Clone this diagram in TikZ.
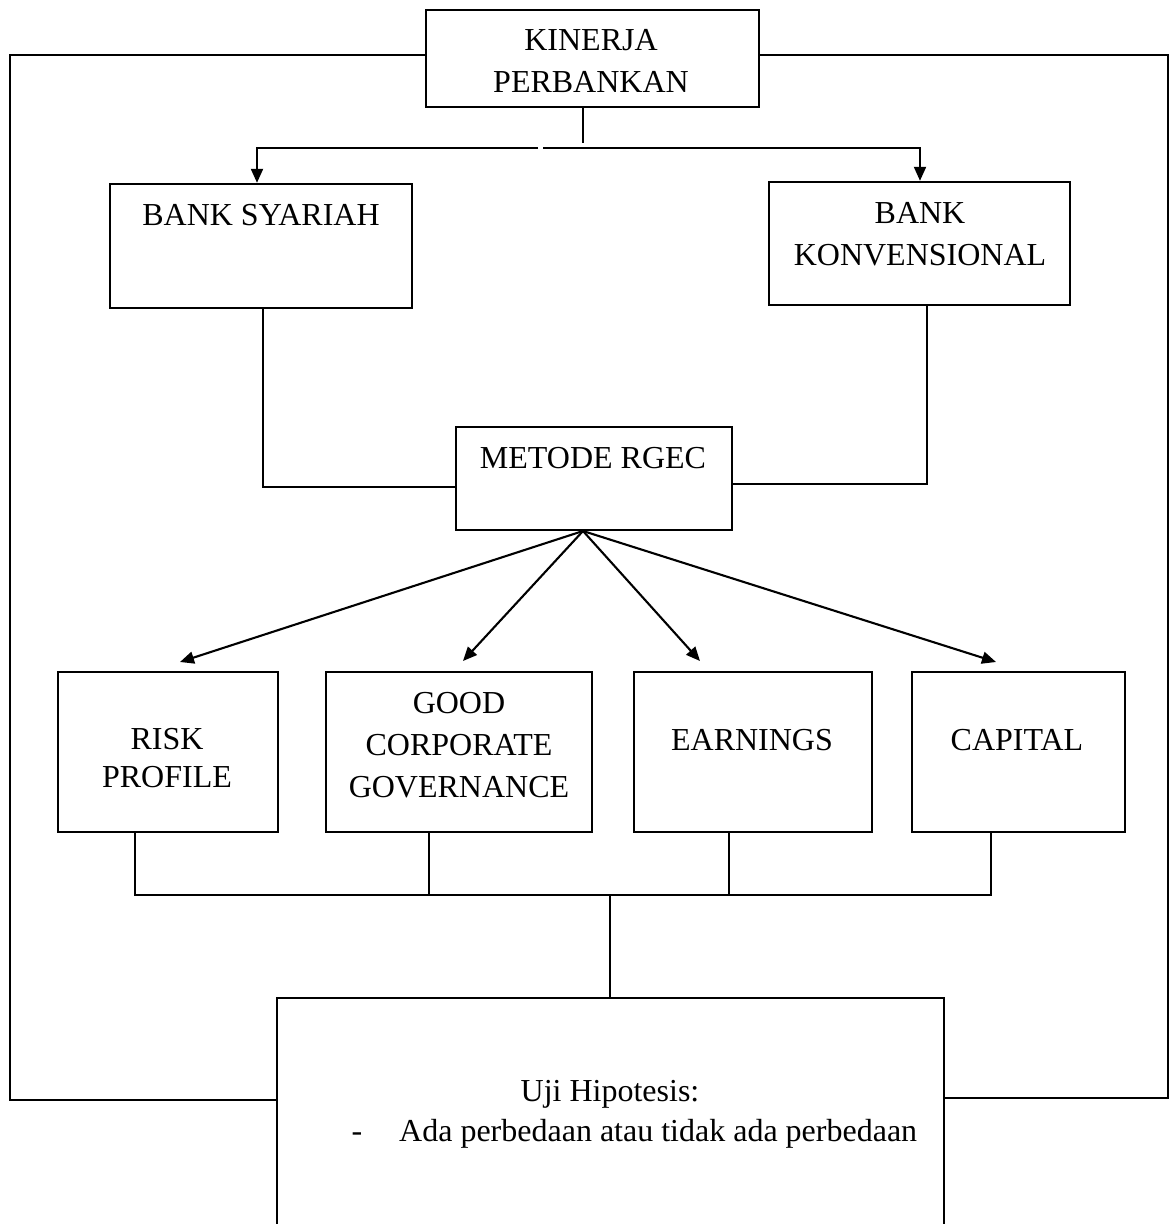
\documentclass[tikz,border=0pt]{standalone}
\usepackage{fontspec}
\setmainfont{Liberation Serif}
\usetikzlibrary{arrows.meta,calc}
\begin{document}
\begin{tikzpicture}[x=1pt,y=-1pt,
  box/.style={draw,line width=2.4pt,inner sep=0pt},
  conn/.style={line width=2pt},
  thin/.style={line width=1.6pt},
  arr/.style={line width=2.1pt,-{Triangle[length=14pt,width=12pt]}},
  lbl/.style={anchor=base,inner sep=0pt,font=\fontsize{32}{42}\selectfont}]
\clip (0,0) rectangle (1170,1224);
\fill[white] (0,0) rectangle (1170,1224);
% boxes
\node[box,minimum width=333pt,minimum height=97pt] (kin) at (592.5,58.5) {};
\node[box,minimum width=302pt,minimum height=124pt] (syariah) at (261,246) {};
\node[box,minimum width=301pt,minimum height=123pt] (konv) at (919.5,243.5) {};
\node[box,minimum width=276pt,minimum height=103pt] (metode) at (594,478.5) {};
\node[box,minimum width=220pt,minimum height=160pt] (risk) at (168,752) {};
\node[box,minimum width=266pt,minimum height=160pt] (gcg) at (459,752) {};
\node[box,minimum width=238pt,minimum height=160pt] (earn) at (753,752) {};
\node[box,minimum width=213pt,minimum height=160pt] (cap) at (1018.5,752) {};
\node[box,minimum width=667pt,minimum height=262pt] (uji) at (610.5,1129) {};
% texts
\node[lbl] (tk1) at (591,50) {KINERJA};
\node[lbl] (tk2) at (591,92) {PERBANKAN};
\node[lbl] (ts) at (261,225) {BANK SYARIAH};
\node[lbl] (tv1) at (920,223) {BANK};
\node[lbl] (tv2) at (920,265) {KONVENSIONAL};
\node[lbl] (tm) at (593,468) {METODE RGEC};
\node[lbl] (tr1) at (167,749) {RISK};
\node[lbl] (tr2) at (167,787) {PROFILE};
\node[lbl] (tg1) at (459,713) {GOOD};
\node[lbl] (tg2) at (459,755) {CORPORATE};
\node[lbl] (tg3) at (459,797) {GOVERNANCE};
\node[lbl] (te) at (752,750) {EARNINGS};
\node[lbl] (tc) at (1017,750) {CAPITAL};
\node[lbl] (tu1) at (610,1101) {Uji Hipotesis:};
\node[lbl] (tu2) at (357,1141) {-};
\node[lbl,anchor=base west] (tu3) at (399,1141) {Ada perbedaan atau tidak ada perbedaan};
% outer loop
\coordinate (ol1) at (10,54.5);
\coordinate (ol2) at (10,1100);
\coordinate (ol3) at (1168,54.5);
\coordinate (ol4) at (1168,1098);
\draw[conn] (kin.west |- ol1) -- (ol1) -- (ol2) -- (uji.west |- ol2);
\draw[conn] (kin.east |- ol3) -- (ol3) -- (ol4) -- (uji.east |- ol4);
% top split
\coordinate (ks) at (583,143);
\coordinate (hL) at (257,148);
\coordinate (hR) at (920,148);
\coordinate (g1) at (538,148);
\coordinate (g2) at (543,148);
\draw[thin] (kin.south -| ks) -- (ks);
\draw[arr] (g1) -| (syariah.north -| hL);
\draw[arr] (g2) -| (konv.north -| hR);
% to metode
\coordinate (sy) at (263,487);
\coordinate (kv) at (927,484);
\draw[conn] (syariah.south -| sy) -- (sy) -- (metode.west |- sy);
\draw[conn] (konv.south -| kv) -- (kv) -- (metode.east |- kv);
% RGEC arrows
\coordinate (rg) at (583,531);
\coordinate (t1) at (180,662);
\coordinate (t2) at (463,661);
\coordinate (t3) at (700,661);
\coordinate (t4) at (996,662);
\draw[arr] (rg) -- (t1);
\draw[arr] (rg) -- (t2);
\draw[arr] (rg) -- (t3);
\draw[arr] (rg) -- (t4);
% bottom join
\coordinate (b1) at (135,895);
\coordinate (b2) at (429,895);
\coordinate (b3) at (729,895);
\coordinate (b4) at (991,895);
\coordinate (bm) at (610,895);
\draw[thin] (risk.south -| b1) -- (b1) -- (b4) -- (cap.south -| b4);
\draw[thin] (gcg.south -| b2) -- (b2);
\draw[thin] (earn.south -| b3) -- (b3);
\draw[thin] (bm) -- (uji.north -| bm);
\end{tikzpicture}
\end{document}
